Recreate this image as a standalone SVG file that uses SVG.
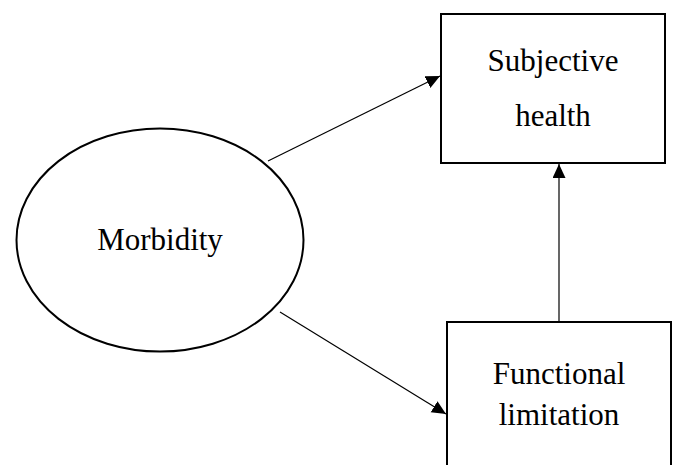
<svg xmlns="http://www.w3.org/2000/svg" width="678" height="465" viewBox="0 0 678 465">
<style>
.node{fill:#fff;stroke:#000;stroke-width:2}
.lbl{font-family:'Liberation Serif','Times New Roman','Noto Serif','DejaVu Serif',serif;font-size:31px;fill:#000;text-anchor:middle}
.edge{stroke:#000;stroke-width:1.2;fill:none;marker-end:url(#arr)}
</style>
<defs>
<marker id="arr" markerUnits="userSpaceOnUse" markerWidth="15" markerHeight="14" refX="14" refY="6.5" orient="auto">
<path d="M0,0 L14,6.5 L0,13 z" fill="#000"/>
</marker>
</defs>
<rect width="678" height="465" fill="#fff"/>
<g id="morbidity">
<ellipse class="node" cx="160" cy="240" rx="143.5" ry="111.5"/>
<text class="lbl" x="160" y="250">Morbidity</text>
</g>
<g id="subjective-health">
<rect class="node" x="441" y="14" width="224" height="149"/>
<text class="lbl" x="553" y="71">Subjective</text>
<text class="lbl" x="553" y="126">health</text>
</g>
<g id="functional-limitation">
<rect class="node" x="447" y="322" width="224" height="170"/>
<text class="lbl" x="559" y="384">Functional</text>
<text class="lbl" x="559" y="425">limitation</text>
</g>
<g id="connectors">
<line class="edge" x1="268" y1="161" x2="440" y2="76"/>
<line class="edge" x1="280" y1="312" x2="446" y2="414"/>
<line class="edge" x1="559" y1="322" x2="559" y2="164"/>
</g>
</svg>
